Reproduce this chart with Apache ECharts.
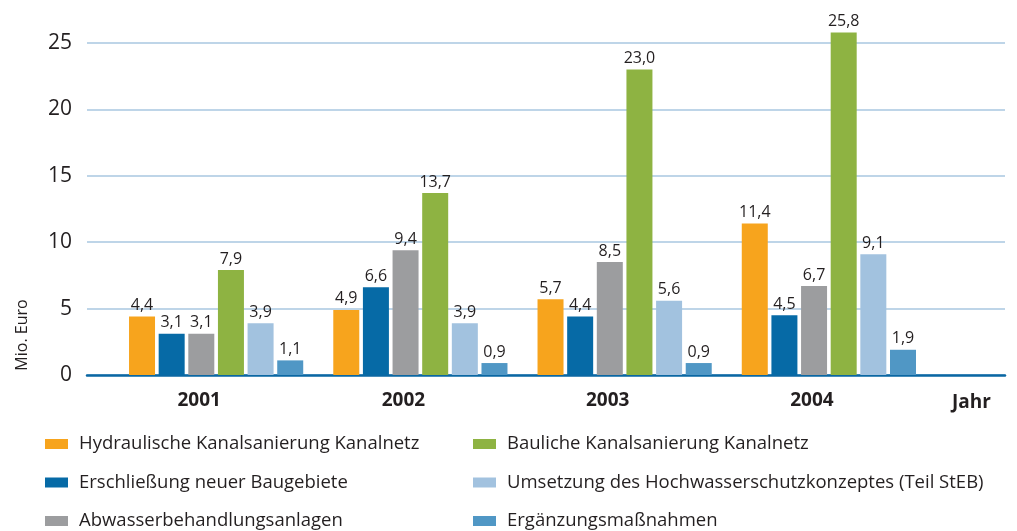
<!DOCTYPE html>
<html>
<head>
<meta charset="utf-8">
<script src="https://cdn.jsdelivr.net/npm/echarts@6/dist/echarts.min.js"></script>
<style>
  html, body { margin: 0; padding: 0; background: #fff; }
  #chart { width: 1017px; height: 531px; }
</style>
</head>
<body>
<div id="chart"></div>
<script>
var years = ['2001', '2002', '2003', '2004'];
var seriesNames = [
  'Hydraulische Kanalsanierung Kanalnetz',
  'Erschließung neuer Baugebiete',
  'Abwasserbehandlungsanlagen',
  'Bauliche Kanalsanierung Kanalnetz',
  'Umsetzung des Hochwasserschutzkonzeptes (Teil StEB)',
  'Ergänzungsmaßnahmen'
];
var hydraulisch = [4.4, 4.9, 5.7, 11.4];
var erschliessung = [3.1, 6.6, 4.4, 4.5];
var abwasser = [3.1, 9.4, 8.5, 6.7];
var baulich = [7.9, 13.7, 23.0, 25.8];
var hochwasser = [3.9, 3.9, 5.6, 9.1];
var ergaenzung = [1.1, 0.9, 0.9, 1.9];
var colors = ['#f7a41d', '#066aa6', '#9c9d9f', '#8eb342', '#a2c2df', '#5097c5'];

var font = 'Open Sans';
var textColor = '#231f20';
var chart = echarts.init(document.getElementById('chart'));

var allData = [hydraulisch, erschliessung, abwasser, baulich, hochwasser, ergaenzung];
var series = allData.map(function (d, i) {
  return {
    name: seriesNames[i],
    type: 'bar',
    xAxisIndex: 1,
    yAxisIndex: 1,
    data: d,
    barWidth: 26,
    barGap: '14%',
    clip: false,
    itemStyle: { color: colors[i] },
    label: {
      show: true,
      position: 'top',
      distance: 3,
      fontFamily: font,
      fontSize: 16,
      color: textColor,
      formatter: function (p) { return p.value.toFixed(1).replace('.', ','); }
    }
  };
});

function legendCol(names, left) {
  return {
    data: names,
    orient: 'vertical', left: left, top: 434, height: 140, padding: 0,
    itemWidth: 23, itemHeight: 10, itemGap: 18.5, icon: 'rect',
    selectedMode: false,
    textStyle: { fontFamily: font, fontSize: 18.5, lineHeight: 20, color: textColor, padding: [0, 0, 0, 6] }
  };
}

chart.setOption({
  animation: false,
  grid: [
    { left: 87, right: 12, top: 43, bottom: 156 },
    { left: 114, right: 86, top: 43, bottom: 156 }
  ],
  xAxis: [
    {
      gridIndex: 0, type: 'value', min: 0, max: 1,
      axisLine: { show: true, lineStyle: { color: '#0a67a3', width: 2.5 } },
      axisTick: { show: false }, axisLabel: { show: false }, splitLine: { show: false }
    },
    {
      gridIndex: 1, type: 'category', data: years,
      axisLine: { show: false }, axisTick: { show: false },
      axisLabel: {
        fontFamily: font, fontSize: 19, fontWeight: 'bold', color: textColor,
        margin: 16, padding: [0, 34, 0, 0]
      },
      name: 'Jahr',
      nameLocation: 'end',
      nameGap: 21,
      nameTextStyle: {
        fontFamily: font, fontSize: 19, fontWeight: 'bold', color: textColor,
        verticalAlign: 'top', padding: [18, 0, 0, 0]
      }
    }
  ],
  yAxis: [
    {
      gridIndex: 0, type: 'value', min: 0, max: 25, interval: 5,
      axisLine: { show: false }, axisTick: { show: false },
      axisLabel: { fontFamily: font, fontSize: 21, color: textColor, margin: 15 },
      splitLine: { lineStyle: { color: '#bed5e8', width: 2 } }
    },
    {
      gridIndex: 1, type: 'value', min: 0, max: 25, interval: 5, show: false
    }
  ],
  legend: [
    legendCol(seriesNames.slice(0, 3), 45),
    legendCol(seriesNames.slice(3), 473)
  ],
  graphic: [
    {
      type: 'text', x: 22, y: 335, rotation: Math.PI / 2,
      style: {
        text: 'Mio. Euro', fontFamily: font, fontSize: 16, fill: textColor,
        textAlign: 'center', textVerticalAlign: 'middle'
      }
    }
  ],
  series: series
});
</script>
</body>
</html>
